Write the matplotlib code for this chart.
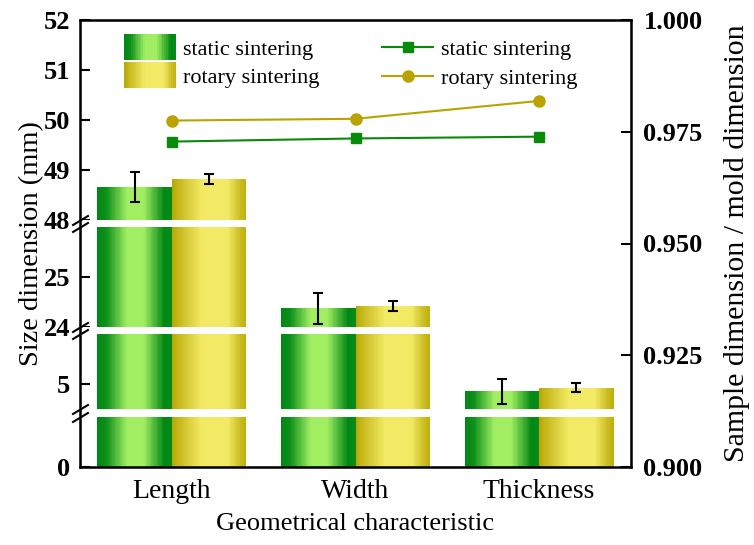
import numpy as np
import matplotlib
matplotlib.use('Agg')
import matplotlib.pyplot as plt
from matplotlib.patches import Rectangle, Patch
from matplotlib.legend_handler import HandlerBase
from matplotlib.ticker import FormatStrFormatter

plt.rcParams['font.family'] = ['Liberation Serif', 'DejaVu Serif']

# data
categories = ['Length', 'Width', 'Thickness']
static_size = [48.66, 24.37, 4.86]
static_err = [0.30, 0.30, 0.25]
rotary_size = [48.83, 24.42, 4.93]
rotary_err = [0.10, 0.10, 0.09]
static_ratio = [0.9728, 0.9735, 0.9739]
rotary_ratio = [0.9775, 0.9779, 0.9819]
left_ticks = [0, 5, 24, 25, 48, 49, 50, 51, 52]

# broken left axis: data breakpoints -> screen position
seg_data = [0, 1, 4.5, 6, 24, 26, 48, 52]
seg_pos = [0, 50, 58, 133, 140, 240, 247, 447]
gaps = [(1, 4.5), (6, 24), (26, 48)]

GREEN_DARK = np.array([0, 135, 20]) / 255
GREEN_LIGHT = np.array([162, 238, 98]) / 255
YEL_DARK = np.array([182, 165, 0]) / 255
YEL_LIGHT = np.array([242, 234, 100]) / 255
GREEN_LINE = '#0a8a0a'
YEL_LINE = '#b8a300'


def fwd(y):
    return np.interp(y, seg_data, seg_pos)


def inv(p):
    return np.interp(p, seg_pos, seg_data)


def shade(t, dark, light, prof):
    s = np.interp(t, prof[0], prof[1])
    return dark + (light - dark) * s


green_prof = ([0, 0.12, 0.4, 0.62, 0.9, 1.0], [0.0, 0.08, 1.0, 1.0, 0.0, 0.05])
yel_prof = ([0, 0.06, 0.4, 0.75, 0.93, 1.0], [0.0, 0.2, 1.0, 1.0, 0.3, 0.15])


def gradient_bar(ax, left, width, height, dark, light, prof, n=60):
    t = (np.arange(n) + 0.5) / n
    lefts = left + np.arange(n) * width / n
    cols = [shade(tt, dark, light, prof) for tt in t]
    ax.bar(lefts, [height] * n, width=width / n * 1.08, align='edge',
           color=cols, linewidth=0, zorder=2)


class GradientHandler(HandlerBase):
    def __init__(self, dark, light, prof):
        super().__init__()
        self.dark, self.light, self.prof = dark, light, prof

    def create_artists(self, legend, orig_handle, xdescent, ydescent,
                       width, height, fontsize, trans):
        n = 30
        arts = []
        for k in range(n):
            t = (k + 0.5) / n
            r = Rectangle((-xdescent + k * width / n, -ydescent - 2),
                          width / n * 1.08, height + 4,
                          facecolor=shade(t, self.dark, self.light, self.prof),
                          linewidth=0, transform=trans)
            arts.append(r)
        return arts


fig = plt.figure(figsize=(7.54, 5.45), dpi=100)
ax = fig.add_axes([80 / 754, 78 / 545, 551 / 754, 447 / 545])
ax.set_yscale('function', functions=(fwd, inv))
ax.set_ylim(0, 52)
ax.set_xlim(-0.5, 2.5)

w = 0.405
x = np.arange(len(categories))
for i in x:
    gradient_bar(ax, i - w, w, static_size[i], GREEN_DARK, GREEN_LIGHT, green_prof)
    gradient_bar(ax, i, w, rotary_size[i], YEL_DARK, YEL_LIGHT, yel_prof)

ax.errorbar(x - w / 2, static_size, yerr=static_err, fmt='none', ecolor='black',
            elinewidth=1.5, capsize=3.5, capthick=1.5, zorder=4)
ax.errorbar(x + w / 2, rotary_size, yerr=rotary_err, fmt='none', ecolor='black',
            elinewidth=1.5, capsize=3.5, capthick=1.5, zorder=4)

# white gaps of the broken axis
for lo, hi in gaps:
    ax.axhspan(lo, hi, color='white', linewidth=0, zorder=2.3)
    for yb in (lo, hi):
        ax.plot([0], [yb], transform=ax.get_yaxis_transform(),
                marker=[(-1, -0.6), (1, 0.6)], ms=12, mew=1.5, mec='black',
                mfc='none', linestyle='none', clip_on=False, zorder=6)

ax.set_yticks(left_ticks)
ax.set_yticklabels([str(t) for t in left_ticks], fontweight='bold')
ax.set_xticks(x)
ax.set_xticklabels(categories)
ax.tick_params(axis='y', direction='in', length=7, width=1.5, labelsize=19, pad=7)
ax.tick_params(axis='x', direction='in', length=7, width=1.5, labelsize=20, pad=9)
for sp in ax.spines.values():
    sp.set_linewidth(1.8)
ax.set_ylabel('Size dimension (mm)', fontsize=20.5, labelpad=0)
ax.set_xlabel('Geometrical characteristic', fontsize=19, labelpad=6)

tw = ax.twinx()
tw.set_ylim(0.9, 1.0)
tw.set_yticks(np.arange(0.9, 1.0001, 0.025))
tw.yaxis.set_major_formatter(FormatStrFormatter('%.3f'))
tw.tick_params(axis='y', direction='in', length=7, width=1.5, labelsize=19, pad=9)
for lab in tw.get_yticklabels():
    lab.set_fontweight('bold')
tw.set_ylabel('Sample dimension / mold dimension', fontsize=21.5, labelpad=15)

l1, = tw.plot(x, static_ratio, '-s', color=GREEN_LINE, lw=1.5, ms=7,
              label='static sintering')
l2, = tw.plot(x, rotary_ratio, '-o', color=YEL_LINE, lw=1.5, ms=8,
              label='rotary sintering')

p1 = Patch(label='static sintering')
p2 = Patch(label='rotary sintering')
leg1 = tw.legend([p1, p2], ['static sintering', 'rotary sintering'],
                 handler_map={p1: GradientHandler(GREEN_DARK, GREEN_LIGHT, green_prof),
                              p2: GradientHandler(YEL_DARK, YEL_LIGHT, yel_prof)},
                 loc='upper left', bbox_to_anchor=(0.08, 0.962), frameon=False,
                 fontsize=16, handlelength=2.35, handleheight=1.05,
                 handletextpad=0.3, labelspacing=0.22, borderpad=0, borderaxespad=0)
tw.add_artist(leg1)
tw.legend([l1, l2], ['static sintering', 'rotary sintering'],
          loc='upper left', bbox_to_anchor=(0.548, 0.957), frameon=False,
          fontsize=16, handlelength=2.3, handletextpad=0.35, labelspacing=0.4,
          borderpad=0, borderaxespad=0)

fig.savefig('out.png', dpi=100)
